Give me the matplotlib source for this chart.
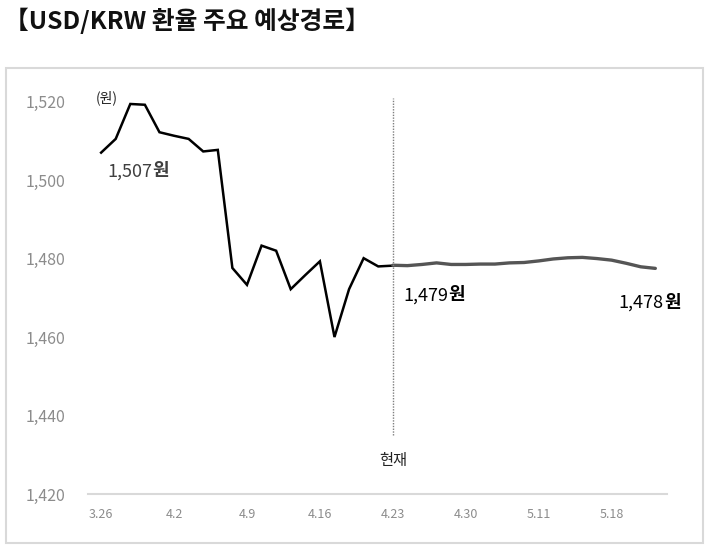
import matplotlib.pyplot as plt
from matplotlib.patches import Rectangle

plt.rcParams['font.family'] = ['Noto Sans CJK KR', 'DejaVu Sans']

# 날짜 (영업일 기준)
dates = ['3.26', '3.27', '3.30', '3.31', '4.1', '4.2', '4.3', '4.6', '4.7', '4.8',
         '4.9', '4.10', '4.13', '4.14', '4.15', '4.16', '4.17', '4.20', '4.21', '4.22',
         '4.23', '4.24', '4.27', '4.28', '4.29', '4.30', '5.4', '5.6', '5.7', '5.8',
         '5.11', '5.12', '5.13', '5.14', '5.15', '5.18', '5.19', '5.20', '5.21']
tick_labels = ['3.26', '4.2', '4.9', '4.16', '4.23', '4.30', '5.11', '5.18']

# 실제 환율 (3.26 ~ 4.23)
actual = [1507.0, 1510.5, 1519.4, 1519.2, 1512.2, 1511.3, 1510.5, 1507.3, 1507.7, 1477.6,
          1473.3, 1483.3, 1482.0, 1472.2, 1475.8, 1479.3, 1460.0, 1472.2, 1480.1, 1478.0,
          1478.2]
# 예상 경로 (4.23 ~ 5.21)
forecast = [1478.3, 1478.2, 1478.5, 1478.9, 1478.5, 1478.5, 1478.6, 1478.6, 1478.9, 1479.0,
            1479.4, 1479.9, 1480.2, 1480.3, 1480.0, 1479.6, 1478.8, 1477.9, 1477.5]

x_actual = list(range(len(actual)))
x_fore = list(range(len(actual) - 1, len(actual) - 1 + len(forecast)))
now_idx = len(actual) - 1

fig = plt.figure(figsize=(7.09, 5.49), dpi=100)

# 바깥 테두리
fig.patches.append(Rectangle((6 / 709, 1 - 543 / 549), 697 / 709, 475 / 549,
                             transform=fig.transFigure, fill=False,
                             edgecolor='#d9d9d9', linewidth=1.5))

fig.text(4 / 709, 1 - 21 / 549, '【USD/KRW 환율 주요 예상경로】', fontsize=17.8,
         fontweight='bold', va='center', ha='left', color='#111111')

ax = fig.add_axes([88 / 709, 1 - 494 / 549, 579 / 709, 412 / 549])
ax.plot(x_actual, actual, color='black', linewidth=1.8, solid_joinstyle='miter')
ax.plot(x_fore, forecast, color='#555555', linewidth=2.4, solid_capstyle='round')
ax.vlines(now_idx, 1435, 1521, colors='#7f7f7f', linestyles=(0, (1, 1)), linewidth=1)

ax.set_xlim(-0.9, 38.8)
ax.set_ylim(1420, 1525)
ax.set_yticks([1420, 1440, 1460, 1480, 1500, 1520])
ax.set_yticklabels([f'{v:,}' for v in [1420, 1440, 1460, 1480, 1500, 1520]])
ax.set_xticks([dates.index(d) for d in tick_labels])
ax.set_xticklabels(tick_labels)
ax.tick_params(axis='y', length=0, pad=16, labelsize=11.5, labelcolor='#8c8c8c')
ax.tick_params(axis='x', length=0, pad=10, labelsize=9, labelcolor='#8c8c8c')
for s in ['top', 'right', 'left']:
    ax.spines[s].set_visible(False)
ax.spines['bottom'].set_color('#d9d9d9')
ax.spines['bottom'].set_linewidth(1.5)


def value_label(x, y, num, color):
    t = ax.text(x, y, num, fontsize=13, color=color, ha='left', va='center')
    ax.annotate('원', xy=(1, 0), xycoords=t, va='bottom', ha='left',
                fontsize=13, fontweight='bold', color=color)


value_label(0.4, 1502.2, f'{actual[0]:,.0f}', '#404040')
value_label(now_idx + 0.7, 1470.6, '1,479', 'black')
value_label(35.5, 1468.8, f'{forecast[-1]:,.0f}', 'black')

ax.text(0.4, 1521, '(원)', fontsize=10, color='#222222', ha='center', va='center')
ax.text(now_idx, 1428.5, '현재', fontsize=11, color='#222222', ha='center', va='center')

fig.savefig('out.png', dpi=100)
